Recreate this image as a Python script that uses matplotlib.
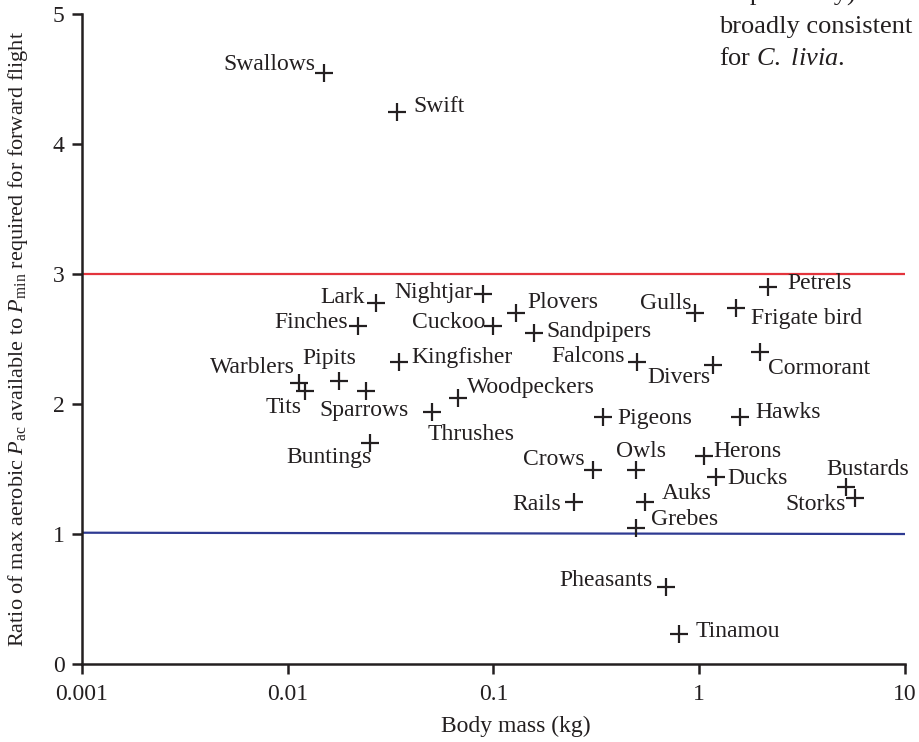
import matplotlib
matplotlib.use("Agg")
import matplotlib.pyplot as plt

plt.rcParams['font.family'] = ['Liberation Serif', 'DejaVu Serif']
plt.rcParams['mathtext.fontset'] = 'custom'
plt.rcParams['mathtext.rm'] = 'Liberation Serif'
plt.rcParams['mathtext.it'] = 'Liberation Serif:italic'

INK = '#231f20'

# bird groups: body mass (kg) and ratio of available to required power
groups = ['Swallows', 'Swift', 'Lark', 'Finches', 'Nightjar', 'Cuckoo', 'Plovers',
          'Sandpipers', 'Gulls', 'Frigate bird', 'Petrels', 'Kingfisher', 'Falcons',
          'Divers', 'Cormorant', 'Warblers', 'Tits', 'Pipits', 'Sparrows', 'Thrushes',
          'Woodpeckers', 'Buntings', 'Pigeons', 'Hawks', 'Crows', 'Owls', 'Herons',
          'Ducks', 'Bustards', 'Storks', 'Rails', 'Auks', 'Grebes', 'Pheasants', 'Tinamou']
mass = [0.015, 0.0338, 0.027, 0.0219, 0.0885, 0.1, 0.129,
        0.158, 0.955, 1.51, 2.16, 0.0346, 0.5,
        1.16, 1.98, 0.0114, 0.0122, 0.0177, 0.0239, 0.05,
        0.0676, 0.025, 0.342, 1.58, 0.303, 0.494, 1.05,
        1.2, 5.17, 5.72, 0.247, 0.547, 0.494, 0.69, 0.80]
ratio = [4.55, 4.25, 2.78, 2.60, 2.85, 2.60, 2.70,
         2.55, 2.70, 2.74, 2.90, 2.32, 2.32,
         2.30, 2.40, 2.16, 2.10, 2.18, 2.10, 1.94,
         2.05, 1.70, 1.90, 1.90, 1.49, 1.49, 1.60,
         1.44, 1.36, 1.275, 1.25, 1.25, 1.045, 0.59, 0.23]

# reference levels
upper_level = 3.0
lower_level = [1.01, 1.0]

xticks = [0.001, 0.01, 0.1, 1, 10]
xtick_labels = ['0.001', '0.01', '0.1', '1', '10']
yticks = [0, 1, 2, 3, 4, 5]

# where each name sits relative to its cross (pixels, up is positive)
label_pos = {
    'Swallows': ('right', -9, 3), 'Swift': ('left', 17, 0), 'Lark': ('right', -12, 0),
    'Finches': ('right', -10, -2), 'Nightjar': ('right', -9, -4), 'Cuckoo': ('right', -8, -2),
    'Plovers': ('left', 11, 5), 'Sandpipers': ('left', 12, -4), 'Gulls': ('right', -4, 4),
    'Frigate bird': ('left', 15, -16), 'Petrels': ('left', 19, -2), 'Kingfisher': ('left', 13, -1),
    'Falcons': ('right', -12, 0), 'Divers': ('right', -2, -18), 'Cormorant': ('left', 8, -22),
    'Warblers': ('right', -5, 10), 'Tits': ('right', -4, -22), 'Pipits': ('center', -9, 17),
    'Sparrows': ('center', -2, -25), 'Thrushes': ('left', -4, -28), 'Woodpeckers': ('left', 8, 5),
    'Buntings': ('right', 2, -20), 'Pigeons': ('left', 14, -7), 'Hawks': ('left', 15, -1),
    'Crows': ('right', -8, 5), 'Owls': ('center', 5, 13), 'Herons': ('left', 10, -1),
    'Ducks': ('left', 12, -7), 'Bustards': ('left', -20, 12), 'Storks': ('right', -9, -12),
    'Rails': ('right', -13, -8), 'Auks': ('left', 16, 3), 'Grebes': ('left', 15, 3),
    'Pheasants': ('right', -13, 1), 'Tinamou': ('left', 16, -3),
}

fig = plt.figure(figsize=(9.2, 7.42), dpi=100)
ax = fig.add_axes([0.0891, 0.1051, 0.8946, 0.876])

ax.plot([xticks[0], xticks[-1]], [upper_level, upper_level], color='#e3343c', lw=1.6, zorder=1)
ax.plot([xticks[0], xticks[-1]], lower_level, color='#2e3a92', lw=1.6, zorder=1)
ax.plot(mass, ratio, ls='none', marker='+', ms=12.5, mew=1.6, color=INK, zorder=3)

for name, m, r in zip(groups, mass, ratio):
    ha, dx, dy = label_pos[name]
    ax.annotate(name, (m, r), xytext=(dx, dy), textcoords='offset pixels',
                ha=ha, va='baseline', fontsize=17, color=INK)

ax.set_xscale('log')
ax.set_xlim(0.001, 10)
ax.set_ylim(0, 5)
ax.set_xticks(xticks)
ax.set_xticklabels(xtick_labels)
ax.xaxis.set_minor_locator(matplotlib.ticker.NullLocator())
ax.set_yticks(yticks)

for side in ['top', 'right']:
    ax.spines[side].set_visible(False)
for side in ['left', 'bottom']:
    ax.spines[side].set_linewidth(1.8)
    ax.spines[side].set_color(INK)
ax.tick_params(direction='out', length=7.5, width=1.8, color=INK, labelcolor=INK,
               labelsize=17)
ax.tick_params(axis='y', pad=5)
ax.tick_params(axis='x', pad=7)

ax.set_xlabel('Body mass (kg)', fontsize=17, color=INK, va='baseline')
ax.xaxis.set_label_coords(0.527, -0.105)
ax.set_ylabel(r'Ratio of max aerobic $P_{\mathrm{ac}}$ available to $P_{\mathrm{min}}$'
              ' required for forward flight', fontsize=16, color=INK, va='center')
ax.yaxis.set_label_coords(-0.078, 0.5)

# running text from the page beside the figure
body_lines = ['respectively).  The', 'broadly consistent', r'for $\mathit{C.\ livia}$.']
for i, line in enumerate(body_lines):
    fig.text(719 / 920, 1 - (1 + 32 * i) / 742, line, fontsize=19, color=INK,
             ha='left', va='baseline')

fig.savefig('out.png', dpi=100)
